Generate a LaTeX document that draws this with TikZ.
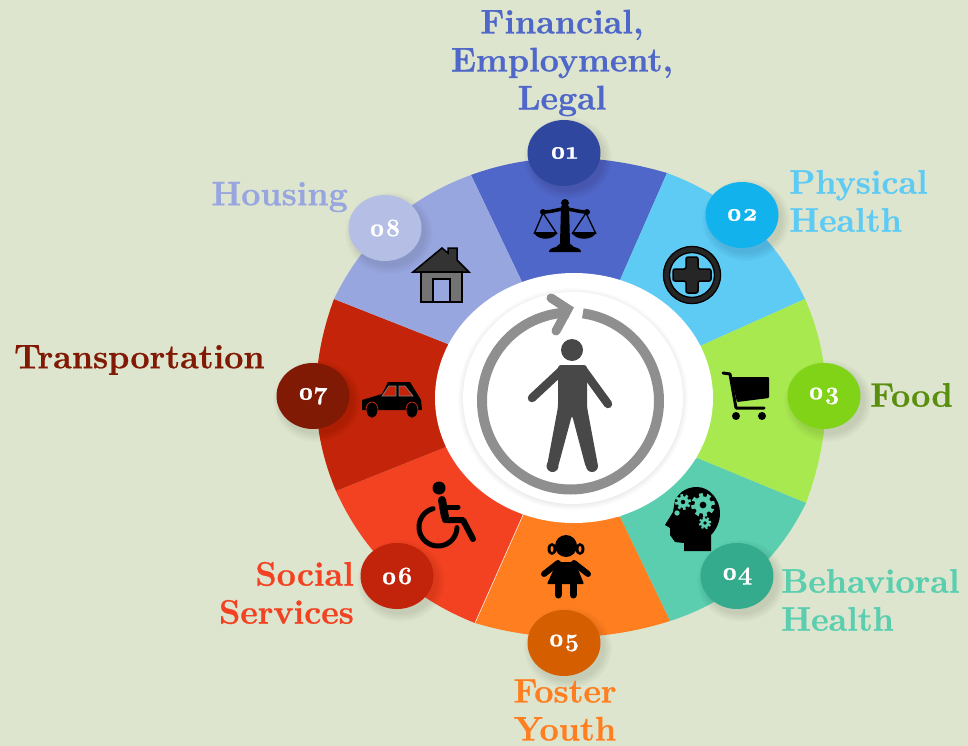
\documentclass[tikz,border=0pt]{standalone}
\usepackage{fontspec}
\setmainfont{Latin Modern Roman}[Numbers=OldStyle,BoldFeatures={FakeBold=0.8}]
\usetikzlibrary{calc,shapes.geometric}
\definecolor{bgc}{HTML}{DEE5CF}
\definecolor{sa}{HTML}{4F67C8}\definecolor{sb}{HTML}{5DCBF4}\definecolor{sc}{HTML}{A8E94F}\definecolor{sd}{HTML}{5BCEB0}
\definecolor{se}{HTML}{FF7F20}\definecolor{sf}{HTML}{F24222}\definecolor{sg}{HTML}{C4250A}\definecolor{sh}{HTML}{98A6E0}
\definecolor{ba}{HTML}{3047A0}\definecolor{bb}{HTML}{12B3EC}\definecolor{bc}{HTML}{80D316}\definecolor{bd}{HTML}{33AB8C}
\definecolor{be}{HTML}{D55E00}\definecolor{bf}{HTML}{C2240B}\definecolor{bg}{HTML}{811A04}\definecolor{bh}{HTML}{B5BFE6}
\definecolor{foodc}{HTML}{5A8F0E}
\definecolor{ringc}{HTML}{8F8F8F}\definecolor{personc}{HTML}{484848}
\newcommand{\badgenum}[1]{\raisebox{-3.5pt}{#1}}
\tikzset{
 badge/.style={ellipse,minimum width=73pt,minimum height=66pt,inner sep=0pt,text=white,font=\fontsize{25}{25}\selectfont\bfseries},
 lab/.style={font=\fontsize{34}{38}\selectfont\bfseries,inner sep=0pt},
 icon/.style={fill=black,draw=none},
 limb/.style={line width=#1,line cap=round,draw=black},
}
\newcommand{\softsh}[5]{% x y rx ry opacity
 \foreach \k in {0,...,7}{\fill[black,opacity=#5] ({#1+4},{#2+5}) ellipse [x radius={(#3+8-\k*1.1)*1pt},y radius={(#4+8-\k*1.1)*1pt}];}}
\newcommand{\gearx}[3]{% x y r
 \fill[sd] (#1,#2) circle[radius={#3*0.72pt}];
 \pgfmathsetlengthmacro{\gt}{#3*0.32pt}
 \draw[sd,line width={#3*0.36pt},dash pattern=on \gt off \gt] (#1,#2) circle[radius={#3*0.82pt}];
 \fill[black] (#1,#2) circle[radius={#3*0.28pt}];}
\begin{document}
\begin{tikzpicture}[x=1pt,y=-1pt]
\useasboundingbox (0,0) rectangle (968,746);
\fill[bgc] (0,0) rectangle (968,746);
% boundary points
\coordinate (i1) at (522,282);\coordinate (o1) at (471,175);
\coordinate (i2) at (620,280);\coordinate (o2) at (667,173);
\coordinate (i3) at (700,346);\coordinate (o3) at (805,299);
\coordinate (i4) at (697,458);\coordinate (o4) at (806,503);
\coordinate (i5) at (620,517);\coordinate (o5) at (670,621);
\coordinate (i6) at (523,515);\coordinate (o6) at (475,623);
\coordinate (i7) at (446,447);\coordinate (o7) at (336,491);
\coordinate (i8) at (448,344);\coordinate (o8) at (334,299);
% tangent corners of the outer arcs
\coordinate (ca) at (561,142);\coordinate (cb) at (762,208);
\coordinate (cc) at (846.5,393);\coordinate (cd) at (763,591);
\coordinate (ce) at (571.5,652);\coordinate (cf) at (378.5,585);
\coordinate (cg) at (297,399);\coordinate (ch) at (377.5,209);
\begin{scope}
\clip (o1) .. controls ($(o1)!.667!(ca)$) and ($(o2)!.667!(ca)$) .. (o2)
 .. controls ($(o2)!.667!(cb)$) and ($(o3)!.667!(cb)$) .. (o3)
 .. controls ($(o3)!.667!(cc)$) and ($(o4)!.667!(cc)$) .. (o4)
 .. controls ($(o4)!.667!(cd)$) and ($(o5)!.667!(cd)$) .. (o5)
 .. controls ($(o5)!.667!(ce)$) and ($(o6)!.667!(ce)$) .. (o6)
 .. controls ($(o6)!.667!(cf)$) and ($(o7)!.667!(cf)$) .. (o7)
 .. controls ($(o7)!.667!(cg)$) and ($(o8)!.667!(cg)$) .. (o8)
 .. controls ($(o8)!.667!(ch)$) and ($(o1)!.667!(ch)$) .. (o1) -- cycle;
\fill[sa] (i1)--($(i1)!1.7!(o1)$)--($(i2)!1.7!(o2)$)--(i2)--cycle;
\fill[sb] (i2)--($(i2)!1.7!(o2)$)--($(i3)!1.7!(o3)$)--(i3)--cycle;
\fill[sc] (i3)--($(i3)!1.7!(o3)$)--($(i4)!1.7!(o4)$)--(i4)--cycle;
\fill[sd] (i4)--($(i4)!1.7!(o4)$)--($(i5)!1.7!(o5)$)--(i5)--cycle;
\fill[se] (i5)--($(i5)!1.7!(o5)$)--($(i6)!1.7!(o6)$)--(i6)--cycle;
\fill[sf] (i6)--($(i6)!1.7!(o6)$)--($(i7)!1.7!(o7)$)--(i7)--cycle;
\fill[sg] (i7)--($(i7)!1.7!(o7)$)--($(i8)!1.7!(o8)$)--(i8)--cycle;
\fill[sh] (i8)--($(i8)!1.7!(o8)$)--($(i1)!1.7!(o1)$)--(i1)--cycle;
\end{scope}
\draw[white,line width=.5pt] (i6)--(o6);
% centre
\fill[white] (574,398) ellipse [x radius=139pt,y radius=125pt];
\foreach \k in {0,...,5}{\fill[black,opacity=.012] (573,399) ellipse [x radius={(115-\k)*1pt},y radius={(111-\k)*1pt}];}
\fill[white] (573,398) ellipse [x radius=110pt,y radius=106pt];
% ring and arrow
\draw[ringc,line width=10pt,samples=150,domain=-269:82] plot ({570.5+88.5*cos(\x)},{401-88.5*sin(\x)});
\draw[ringc,line width=9pt,line cap=round,line join=miter] (551,298) -- (568,309) -- (556,331);
% person
\fill[personc] (572,350) circle[radius=11pt];
\fill[personc,rounded corners=3pt] (558,365) -- (587,365) -- (587,407) -- (598,466) -- (586,468) -- (572,415) -- (558,467) -- (547,466) -- (558,407) -- cycle;
\fill[personc] (552.5,466) circle[radius=6pt];\fill[personc] (592,466) circle[radius=6pt];
\draw[personc,line width=8.5pt,line cap=round] (561,371) -- (532,398);
\draw[personc,line width=8.5pt,line cap=round] (584,371) -- (608,404);
% scales
\fill[icon] (565,203) circle[radius=4pt];
\fill[icon] (561,206) -- (569,206) -- (570,243) -- (560,243) -- cycle;
\draw[limb=3.5pt] (543,212) .. controls (552,212) and (558,209) .. (565,209) .. controls (572,209) and (578,212) .. (587,212);
\fill[icon] (543,212) circle[radius=3pt];\fill[icon] (587,212) circle[radius=3pt];
\draw[black,line width=1.3pt,fill=none] (534,234) -- (543,213) -- (557,234);
\draw[black,line width=1.3pt,fill=none] (572,234) -- (586,213) -- (596,234);
\fill[icon] (534,232) .. controls (536,241) and (555,241) .. (557,232) -- cycle;
\fill[icon] (572,232) .. controls (574,241) and (594,241) .. (596,232) -- cycle;
\fill[icon] (562,242) -- (568,242) -- (574,247) .. controls (578,248) and (581,249) .. (581,252) -- (549,252) .. controls (549,249) and (552,248) .. (556,247) -- cycle;
% plus
\draw[black!85,line width=7pt,fill=none] (692,275) circle[radius=25.5pt];
\draw[black,line width=1.2pt,fill=none] (692,275) circle[radius=28.5pt];
\draw[black,line width=1.2pt,fill=none] (692,275) circle[radius=22.5pt];
\fill[black!85,draw=black,line width=1.5pt,rounded corners=2pt] (686,257) -- (698,257) -- (698,269) -- (711,269) -- (711,281) -- (698,281) -- (698,293) -- (686,293) -- (686,281) -- (673,281) -- (673,269) -- (686,269) -- cycle;
% cart
\draw[black,line width=3pt,line cap=round,line join=round] (723,373) -- (730,374) -- (736,408) -- (764,408);
\fill[icon,rounded corners=1pt] (731,377) -- (769,377) -- (769,398) -- (737,402) -- cycle;
\fill[icon] (736,416) circle[radius=4pt];\fill[icon] (762,416) circle[radius=4pt];
% head
\fill[icon] (684,551) -- (684,543) -- (675,542) -- (670,535) -- (670,528) -- (665,525) -- (673,512) -- (675,500) .. controls (680,491) and (688,487) .. (697,487) .. controls (710,487) and (720,500) .. (720,513) .. controls (720,522) and (716,530) .. (711,535) -- (711,551) -- cycle;
\gearx{683}{502}{8}
\gearx{703}{505}{12}
\gearx{705}{523}{6.5}
\fill[sd] (677,513) circle[radius=2.7pt];
% girl
\fill[icon] (552,549) ellipse[x radius=4.5pt,y radius=6pt];\fill[icon] (580,549) ellipse[x radius=4.5pt,y radius=6pt];
\fill[se] (552,549) ellipse[x radius=1.5pt,y radius=3pt];\fill[se] (580,549) ellipse[x radius=1.5pt,y radius=3pt];
\fill[icon] (566,546) circle[radius=11pt];
\fill[icon,rounded corners=1pt] (557,562) -- (575,562) -- (584,584) -- (547,584) -- cycle;
\draw[limb=6pt] (544,574) -- (558,563);\draw[limb=6pt] (588,574) -- (574,563);
\draw[limb=7pt] (558,584) -- (558,595);\draw[limb=7pt] (573,584) -- (573,595);
% wheelchair
\fill[icon] (439,488) circle[radius=6.5pt];
\draw[black,line width=8pt,line cap=round,line join=round] (442,500) -- (445,517);
\draw[black,line width=5pt,line cap=round] (445,507) -- (458,507);
\draw[black,line width=6pt,line cap=round,line join=round] (445,520) -- (463,520) -- (473,539);
\draw[black,line width=5pt,samples=60,domain=105:358,line cap=round] plot ({438+19*cos(\x)},{527-19*sin(\x)});
% car
\fill[icon] (362,410) -- (362,400) -- (382,394) -- (388,382) -- (410,382) -- (418,395) -- (421,400) -- (422,410) -- cycle;
\fill[sg,draw=gray,line width=.7pt] (382,396) -- (389,386) -- (396,386) -- (396,396) -- cycle;
\fill[sg,draw=gray,line width=.7pt] (399,386) -- (405,386) -- (413,396) -- (399,396) -- cycle;
\fill[black,draw=sg,line width=.8pt] (372,410) ellipse[x radius=6pt,y radius=8pt];
\fill[black,draw=sg,line width=.8pt] (412,410) ellipse[x radius=6pt,y radius=8pt];
% house
\fill[black!80,draw=black,line width=1.5pt,line join=miter] (413,272) -- (442,248) -- (448,253) -- (448,248) -- (457,248) -- (457,260) -- (469,272) -- cycle;
\fill[gray!90!black,draw=black,line width=2pt] (421,272) rectangle (462,302);
\fill[sh,draw=black,line width=2pt] (433,279) rectangle (450,302);
% badges
\foreach \bx/\by in {564/153,742/215,824/396,737/576,564/643,397/576,313/396,385/228}{\softsh{\bx}{\by}{36}{33}{.012}}
\node[badge,fill=ba] (b1) at (564,153) {\badgenum{01}};
\node[badge,fill=bb] (b2) at (742,215) {\badgenum{02}};
\node[badge,fill=bc] (b3) at (824,396) {\badgenum{03}};
\node[badge,fill=bd] (b4) at (737,576) {\badgenum{04}};
\node[badge,fill=be] (b5) at (564,643) {\badgenum{05}};
\node[badge,fill=bf] (b6) at (397,576) {\badgenum{06}};
\node[badge,fill=bg] (b7) at (313,396) {\badgenum{07}};
\node[badge,fill=bh] (b8) at (385,228) {\badgenum{08}};
% labels
\node[lab,text=sa,align=center] (l1) at (562,63) {Financial,\\Employment,\\Legal};
\node[lab,text=sb,align=left,anchor=west] (l2) at (789,201) {Physical\\Health};
\node[lab,text=foodc,anchor=west] (l3) at (870,395) {Food};
\node[lab,text=sd,align=left,anchor=west] (l4) at (781,600) {Behavioral\\Health};
\node[lab,text=se,align=center] (l5) at (565,710) {Foster\\Youth};
\node[lab,text=sf,align=right,anchor=east] (l6) at (354,593) {Social\\Services};
\node[lab,text=bg,anchor=west] (l7) at (14,360) {Transportation};
\node[lab,text=sh,anchor=east] (l8) at (348,197) {Housing};
\end{tikzpicture}
\end{document}
